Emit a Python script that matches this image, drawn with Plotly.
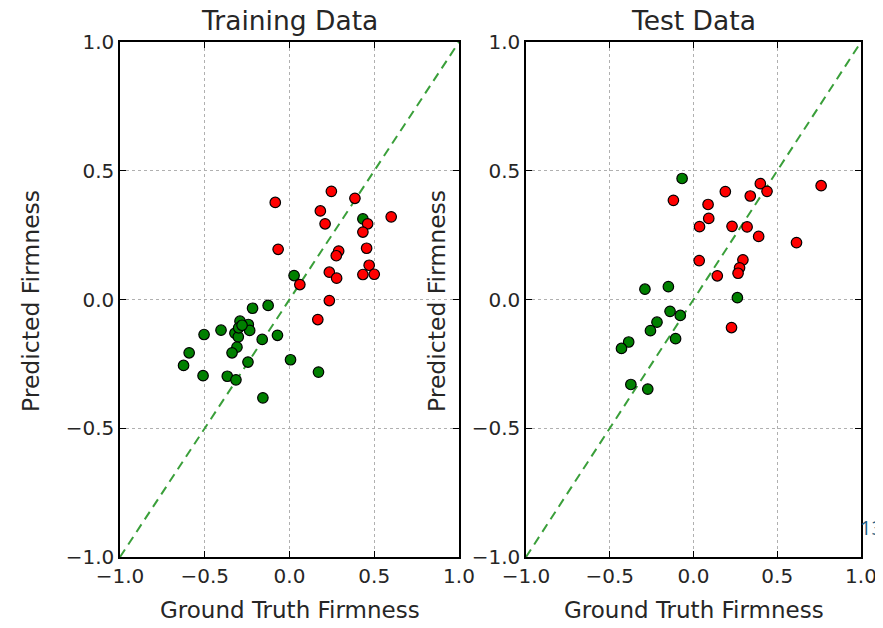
import plotly.graph_objects as go

# Training data
train_red_x = [0.247, 0.386, -0.084, 0.182, 0.600, 0.461, 0.210, 0.433, -0.067, 0.455, 0.290,
               0.276, 0.470, 0.235, 0.278, 0.433, 0.500, 0.061, 0.235, 0.167]
train_red_y = [0.420, 0.393, 0.377, 0.344, 0.321, 0.294, 0.294, 0.262, 0.195, 0.199, 0.188,
               0.170, 0.133, 0.106, 0.083, 0.097, 0.098, 0.058, -0.004, -0.078]
train_green_x = [0.433, 0.027, -0.218, -0.126, -0.292, -0.243, -0.404, -0.322, -0.235, -0.504,
                 -0.302, -0.071, -0.161, -0.310, -0.339, -0.592, -0.625, -0.245, 0.006, -0.510,
                 -0.367, -0.316, 0.171, -0.157, -0.300, -0.280]
train_green_y = [0.313, 0.093, -0.034, -0.023, -0.084, -0.097, -0.119, -0.131, -0.120, -0.136,
                 -0.145, -0.139, -0.155, -0.185, -0.207, -0.207, -0.256, -0.243, -0.234, -0.296,
                 -0.298, -0.312, -0.282, -0.382, -0.110, -0.100]

# Test data
test_green_x = [-0.068, -0.290, -0.150, 0.262, -0.140, -0.079, -0.218, -0.257, -0.107, -0.387,
                -0.430, -0.374, -0.273]
test_green_y = [0.470, 0.040, 0.050, 0.007, -0.046, -0.062, -0.088, -0.121, -0.152, -0.165,
                -0.190, -0.330, -0.348]
test_red_x = [0.399, 0.762, 0.439, 0.190, 0.339, -0.120, 0.087, 0.091, 0.036, 0.230, 0.320,
              0.389, 0.615, 0.034, 0.295, 0.275, 0.266, 0.142, 0.227]
test_red_y = [0.450, 0.442, 0.420, 0.419, 0.402, 0.385, 0.369, 0.315, 0.283, 0.284, 0.282,
              0.245, 0.221, 0.151, 0.154, 0.123, 0.102, 0.092, -0.109]

diag = [-1.0, 1.0]
ticks = [-1.0, -0.5, 0.0, 0.5, 1.0]
tick_text = ["\u22121.0", "\u22120.5", "0.0", "0.5", "1.0"]
titles = ["Training Data", "Test Data"]
xlabel = "Ground Truth Firmness"
ylabel = "Predicted Firmness"

FONT = "DejaVu Sans"
TXT = "#262626"
fig = go.Figure()

panels = [
    ("x", "y", train_green_x, train_green_y, train_red_x, train_red_y),
    ("x2", "y2", test_green_x, test_green_y, test_red_x, test_red_y),
]
for xa, ya, gx, gy, rx, ry in panels:
    fig.add_trace(go.Scatter(x=diag, y=diag, mode="lines", xaxis=xa, yaxis=ya,
                             line=dict(color="#3a9f3a", width=2, dash="9px,6px"),
                             showlegend=False, hoverinfo="skip"))
    fig.add_trace(go.Scatter(x=gx, y=gy, mode="markers", xaxis=xa, yaxis=ya,
                             marker=dict(color="#008000", size=10.5,
                                         line=dict(color="black", width=1.2)),
                             showlegend=False))
    fig.add_trace(go.Scatter(x=rx, y=ry, mode="markers", xaxis=xa, yaxis=ya,
                             marker=dict(color="#ff0000", size=10.5,
                                         line=dict(color="black", width=1.2)),
                             showlegend=False))

axis_common = dict(range=[-1, 1], tickvals=ticks, ticktext=tick_text, ticks="inside",
                   ticklen=6, tickwidth=1, tickcolor="black", showline=True,
                   linecolor="black", linewidth=1.5, mirror="ticks", showgrid=True,
                   gridcolor="#b0b0b0", griddash="3px,3px", gridwidth=1, zeroline=False,
                   automargin=False,
                   tickfont=dict(family=FONT, size=20, color=TXT))

# page has an 8px body margin; work in figure pixel coordinates
OFF = 8
FW, FH = 875, 620
L, R, T, B = 120 - OFF, 861 - OFF, 42 - OFF, 557 - OFF
W = float(R - L)
H = float(B - T)
d1 = (459 - OFF - L) / W
d2 = (526 - OFF - L) / W


def px_x(p):
    return (p - OFF - L) / W


def px_y(p):
    return (B - (p - OFF)) / H


fig.update_layout(
    width=FW, height=FH, autosize=False,
    margin=dict(l=L, r=FW - R, t=T, b=FH - B, autoexpand=False),
    paper_bgcolor="white", plot_bgcolor="white",
    xaxis=dict(domain=[0, d1], anchor="y", **axis_common),
    yaxis=dict(domain=[0, 1], anchor="x", **axis_common),
    xaxis2=dict(domain=[d2, 1], anchor="y2", **axis_common),
    yaxis2=dict(domain=[0, 1], anchor="x2", **axis_common),
)

anns = []
for cx, t in [(d1 / 2, titles[0]), ((d2 + 1) / 2, titles[1])]:
    anns.append(dict(text=t, x=cx, y=px_y(20), xref="paper", yref="paper",
                     showarrow=False, xanchor="center", yanchor="middle",
                     font=dict(family=FONT, size=26.5, color=TXT)))
    anns.append(dict(text=xlabel, x=cx, y=px_y(610), xref="paper", yref="paper",
                     showarrow=False, xanchor="center", yanchor="middle",
                     font=dict(family=FONT, size=23, color=TXT)))
for p in [31, 437]:
    anns.append(dict(text=ylabel, x=px_x(p), y=px_y(301), xref="paper",
                     yref="paper", showarrow=False, xanchor="center", yanchor="middle",
                     textangle=-90, font=dict(family=FONT, size=23.5, color=TXT)))
anns.append(dict(text="13", x=px_x(858), y=px_y(527), xref="paper",
                 yref="paper", showarrow=False, xanchor="left", yanchor="middle",
                 font=dict(family="Open Sans", size=20, color="#1f5f85")))
fig.update_layout(annotations=anns)

fig.write_html("out.html")
